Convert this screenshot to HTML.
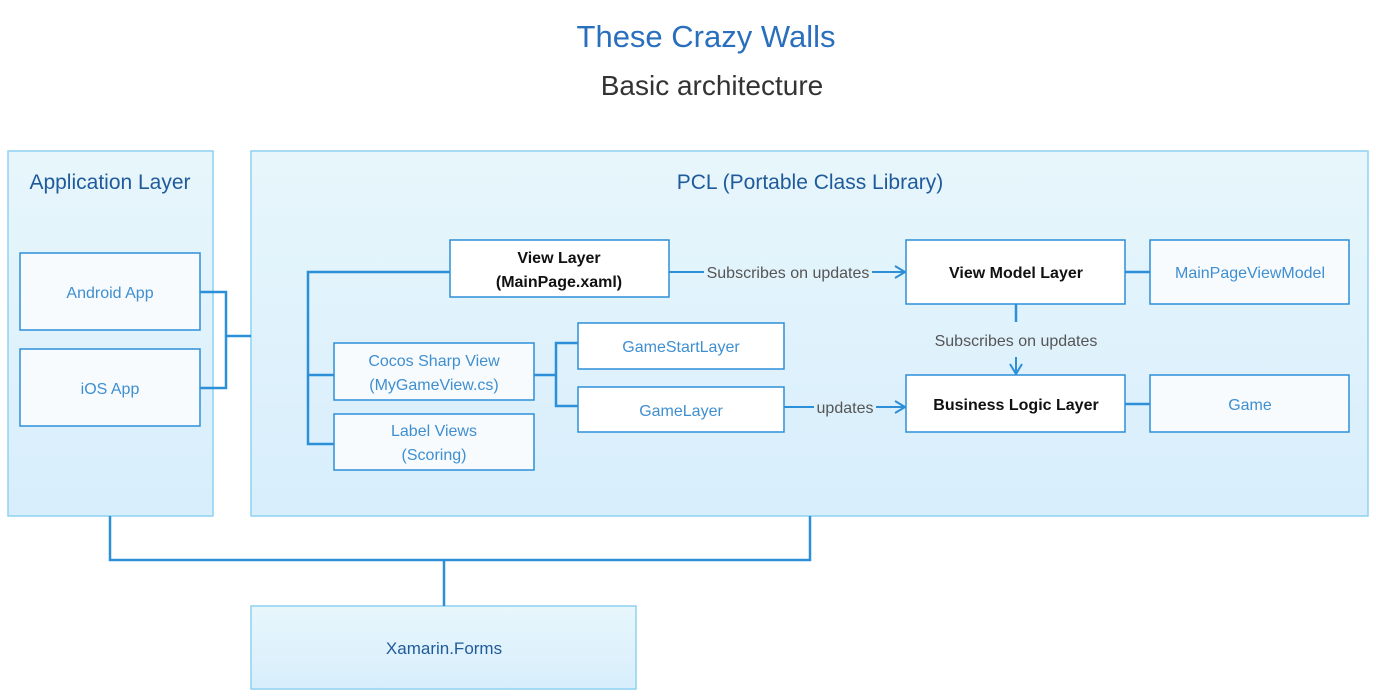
<!DOCTYPE html>
<html><head><meta charset="utf-8"><style>
html,body{margin:0;padding:0;background:#fff;}
svg{display:block;font-family:"Liberation Sans",sans-serif;}
</style></head><body>
<svg width="1376" height="699" viewBox="0 0 1376 699" xmlns="http://www.w3.org/2000/svg">
<defs>
<linearGradient id="g" x1="0" y1="0" x2="0" y2="1"><stop offset="0" stop-color="#e7f6fb"/><stop offset="1" stop-color="#d8eefc"/></linearGradient>
<marker id="a" markerWidth="12" markerHeight="14" refX="11" refY="7" orient="auto" markerUnits="userSpaceOnUse"><path d="M1,1 L11,7 L1,13" fill="none" stroke="#2d8fd8" stroke-width="2"/></marker>
</defs>
<text x="706" y="47" text-anchor="middle" font-size="31" fill="#2a6fbd">These Crazy Walls</text>
<text x="712" y="95" text-anchor="middle" font-size="28" fill="#333">Basic architecture</text>

<g stroke="#8ed2f2" stroke-width="1.5" fill="url(#g)">
<rect x="8" y="151" width="205" height="365"/>
<rect x="251" y="151" width="1117" height="365"/>
<rect x="251" y="606" width="385" height="83"/>
</g>
<text x="110" y="189" text-anchor="middle" font-size="21" fill="#1f5a9a">Application Layer</text>
<text x="810" y="189" text-anchor="middle" font-size="21" fill="#1f5a9a">PCL (Portable Class Library)</text>
<text x="444" y="654" text-anchor="middle" font-size="17" fill="#1f5a9a">Xamarin.Forms</text>

<g fill="none" stroke="#2d8fd8" stroke-width="2.5">
<path d="M200 292 H226 V388 H200 M226 336 H251"/>
<path d="M450 272 H308 V444 H334 M308 375 H334"/>
<path d="M534 375 H556 M578 343 H556 V406 H578"/>
<path d="M110 516 V560 H810 V516 M444 560 V606"/>
<path d="M1125 272 H1150 M1125 404 H1150"/>
<path d="M1016 304 V322"/>
</g>
<g fill="none" stroke="#2d8fd8" stroke-width="2">
<path d="M669 272 H704"/>
<path d="M872 272 H905" marker-end="url(#a)"/>
<path d="M784 407 H814"/>
<path d="M876 407 H905" marker-end="url(#a)"/>
<path d="M1016 357 V374" marker-end="url(#a)"/>
</g>
<g font-size="16" fill="#555">
<text x="788" y="278" text-anchor="middle">Subscribes on updates</text>
<text x="845" y="413" text-anchor="middle">updates</text>
<text x="1016" y="346" text-anchor="middle">Subscribes on updates</text>
</g>

<g stroke="#2d8fd8" stroke-width="1.5">
<rect x="20" y="253" width="180" height="77" fill="#f7fbfe"/>
<rect x="20" y="349" width="180" height="77" fill="#f7fbfe"/>
<rect x="450" y="240" width="219" height="57" fill="#fff"/>
<rect x="334" y="343" width="200" height="57" fill="#f7fbfe"/>
<rect x="334" y="414" width="200" height="56" fill="#f7fbfe"/>
<rect x="578" y="323" width="206" height="46" fill="#fff"/>
<rect x="578" y="387" width="206" height="45" fill="#fff"/>
<rect x="906" y="240" width="219" height="64" fill="#fff"/>
<rect x="1150" y="240" width="199" height="64" fill="#f7fbfe"/>
<rect x="906" y="375" width="219" height="57" fill="#fff"/>
<rect x="1150" y="375" width="199" height="57" fill="#f7fbfe"/>
</g>
<g font-size="16" fill="#3f8fd0" text-anchor="middle">
<text x="110" y="298">Android App</text>
<text x="110" y="394">iOS App</text>
<text x="434" y="366">Cocos Sharp View</text>
<text x="434" y="390">(MyGameView.cs)</text>
<text x="434" y="436">Label Views</text>
<text x="434" y="460">(Scoring)</text>
<text x="681" y="352">GameStartLayer</text>
<text x="681" y="416">GameLayer</text>
<text x="1250" y="278">MainPageViewModel</text>
<text x="1250" y="410">Game</text>
</g>
<g font-size="16" fill="#111" font-weight="bold" text-anchor="middle">
<text x="559" y="263">View Layer</text>
<text x="559" y="287">(MainPage.xaml)</text>
<text x="1016" y="278">View Model Layer</text>
<text x="1016" y="410">Business Logic Layer</text>
</g>
</svg>
</body></html>
